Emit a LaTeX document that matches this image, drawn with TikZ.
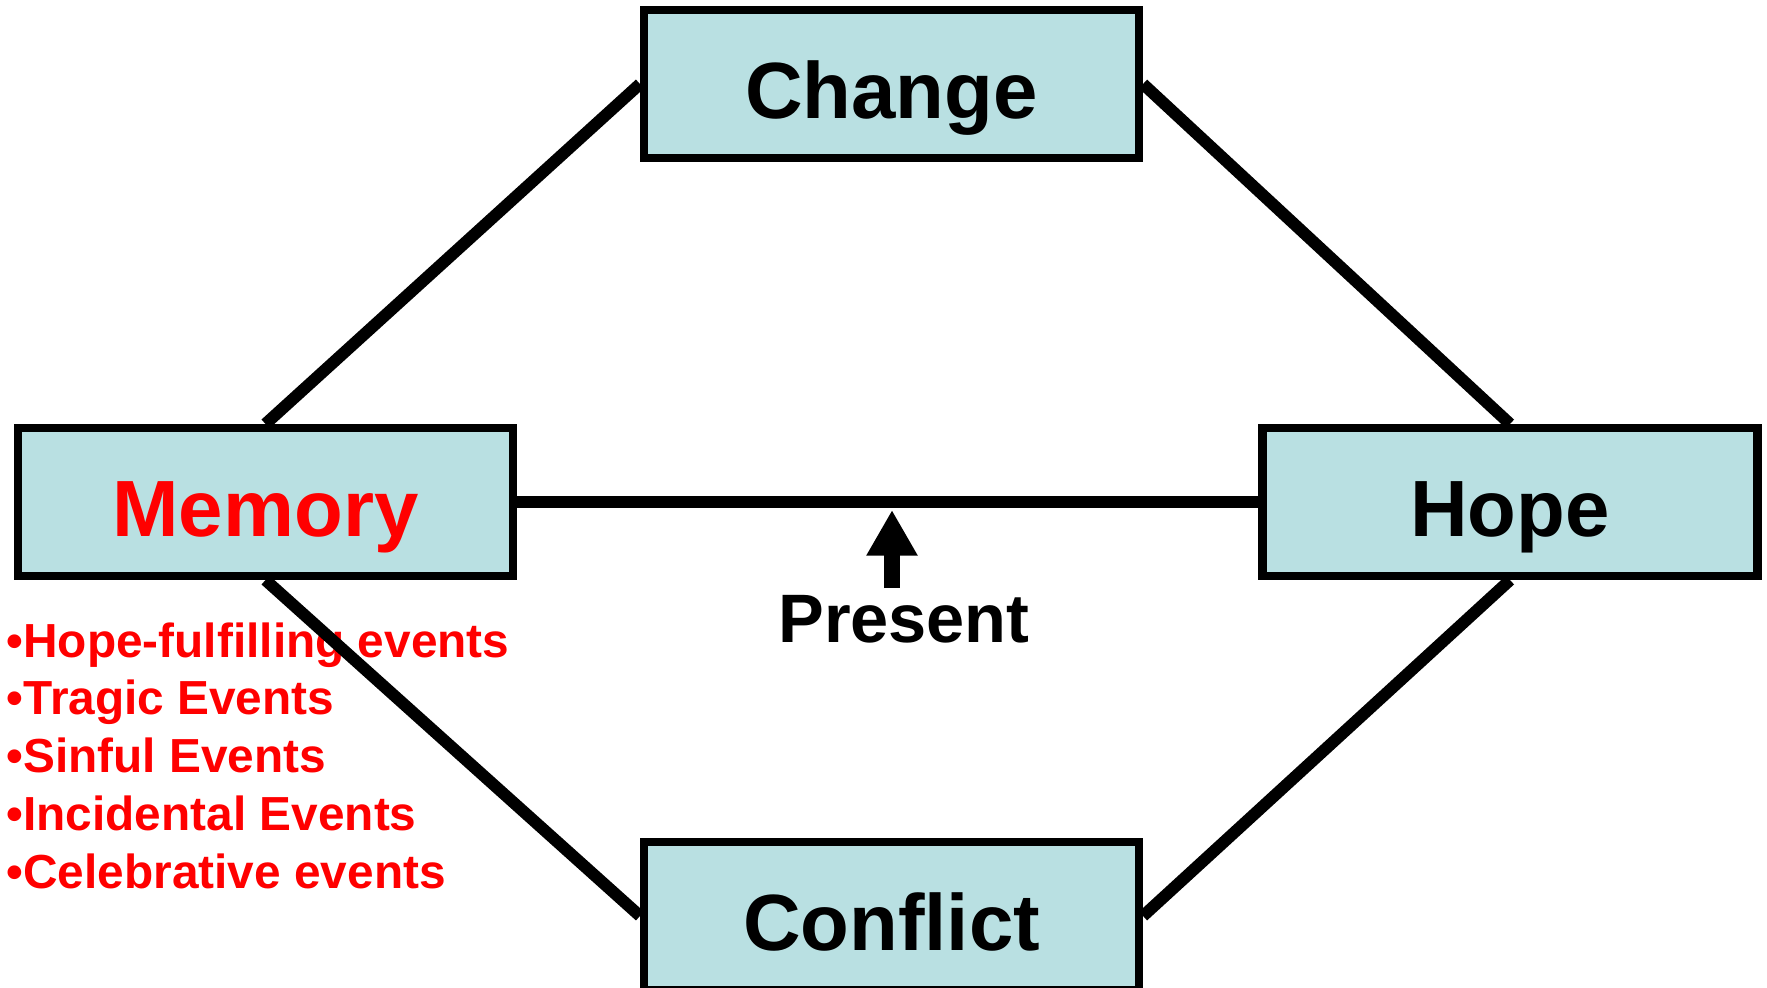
\documentclass[tikz,border=0pt]{standalone}
\usepackage{fontspec}
\setmainfont{Liberation Sans}
\usetikzlibrary{arrows.meta, positioning}
\definecolor{boxblue}{RGB}{185,224,226}
\definecolor{memred}{RGB}{255,0,0}

\begin{document}
\begin{tikzpicture}[
    box/.style={draw=black, line width=2.3pt, fill=boxblue, minimum width=4.95cm, minimum height=1.48cm, inner sep=0pt, text height=19.6pt, text depth=0pt, font=\fontsize{22.7}{27}\selectfont\bfseries},
    link/.style={line width=3.4pt},
    item/.style={anchor=base west, inner sep=0pt, text=memred, font=\fontsize{13.6}{16}\selectfont\bfseries}
]
    \useasboundingbox (0,0) rectangle (17.67,-9.88);

    % Boxes
    \node[box, text=memred] (memory) at (2.655,-5.02) {Memory};
    \node[box] (change) at (8.915,-0.84) {Change};
    \node[box] (hope) at (15.10,-5.02) {Hope};
    \node[box] (conflict) at (8.915,-9.16) {Conflict};

    % Events under Memory
    \foreach \ev [count=\i] in {Hope-fulfilling events, Tragic Events, Sinful Events, Incidental Events, Celebrative events}
        \node[item] (ev\i) at (0.06,{-6.57-0.578*(\i-1)}) {\textbullet\ev};

    % Links
    \draw[link] (memory.north) -- (change.west);
    \draw[link] (change.east) -- (hope.north);
    \draw[link] (memory.south) -- (conflict.west);
    \draw[link] (conflict.east) -- (hope.south);
    \draw[link] (memory.east) -- (hope.west);

    % Present
    \node[anchor=base, inner sep=2pt, font=\fontsize{19.5}{23}\selectfont\bfseries] (present) at (9.04,-6.43) {Present};
    \coordinate (now) at (8.92,-5.10);
    \draw[line width=4.5pt, -{Triangle[width=13.7pt, length=13pt]}] (now |- present.north) -- (now);
\end{tikzpicture}
\end{document}
